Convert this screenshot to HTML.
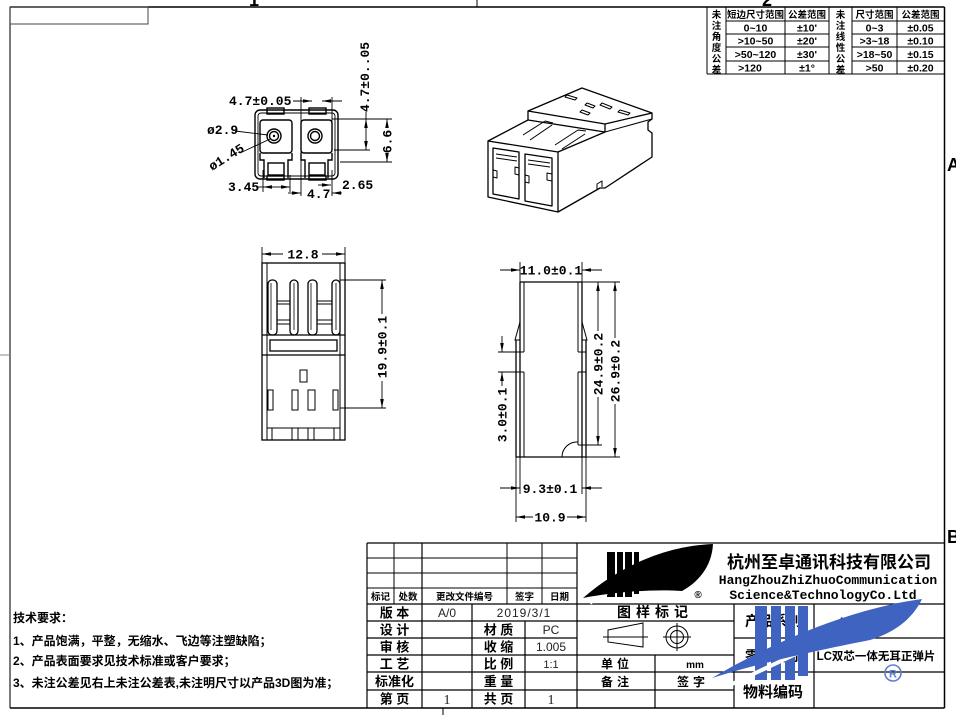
<!DOCTYPE html>
<html><head><meta charset="utf-8">
<style>
html,body{margin:0;padding:0;background:#fff;}
svg{display:block;}
.d{font-family:"Liberation Mono",monospace;font-weight:bold;font-size:13px;fill:#000;}
.c{font-family:"Liberation Sans","Noto Sans CJK SC",sans-serif;font-weight:bold;fill:#000;}
.n{font-family:"Liberation Sans","Noto Sans CJK SC",sans-serif;font-weight:normal;fill:#222;}
</style></head><body>
<svg width="956" height="715" viewBox="0 0 956 715" xmlns="http://www.w3.org/2000/svg">
<defs>
<marker id="a" viewBox="0 0 10 4" refX="10" refY="2" markerWidth="9" markerHeight="3.6" orient="auto" markerUnits="userSpaceOnUse"><path d="M0,0 L10,2 L0,4 z" fill="#000"/></marker>
</defs>

<!-- FRAME -->
<g stroke="#000" fill="none">
<line x1="10" y1="7" x2="944.5" y2="7" stroke-width="1.5"/>
<line x1="10" y1="7" x2="10" y2="708" stroke-width="1.3" stroke="#333"/>
<line x1="10" y1="708" x2="944.5" y2="708" stroke-width="1.5"/>
<line x1="944.5" y1="7" x2="944.5" y2="708" stroke-width="1.5"/>
<rect x="10" y="7" width="138" height="17" stroke-width="1" stroke="#444"/>
<line x1="477" y1="0" x2="477" y2="7" stroke-width="1"/>
<line x1="0" y1="355" x2="10" y2="355" stroke-width="1" stroke="#888"/>
<line x1="443" y1="708" x2="443" y2="715" stroke-width="1"/>
</g>
<text x="249" y="6" class="c" font-size="18">1</text>
<text x="762" y="6" class="c" font-size="18">2</text>
<text x="947" y="171" class="c" font-size="18" font-family="Liberation Serif">A</text>
<text x="947" y="543" class="c" font-size="18" font-family="Liberation Serif">B</text>

<!-- TOLERANCE TABLE -->
<g stroke="#000" stroke-width="1" fill="none">
<line x1="707" y1="7" x2="707" y2="74"/>
<line x1="726" y1="7" x2="726" y2="74"/>
<line x1="785" y1="7" x2="785" y2="74"/>
<line x1="829" y1="7" x2="829" y2="74"/>
<line x1="852" y1="7" x2="852" y2="74"/>
<line x1="897" y1="7" x2="897" y2="74"/>
<line x1="707" y1="74" x2="944" y2="74"/>
<line x1="726" y1="21" x2="829" y2="21"/><line x1="852" y1="21" x2="944" y2="21"/>
<line x1="726" y1="34" x2="829" y2="34"/><line x1="852" y1="34" x2="944" y2="34"/>
<line x1="726" y1="47" x2="829" y2="47"/><line x1="852" y1="47" x2="944" y2="47"/>
<line x1="726" y1="61" x2="829" y2="61"/><line x1="852" y1="61" x2="944" y2="61"/>
</g>
<g class="c" font-size="9.5" text-anchor="middle">
<text x="716.5" y="18">未</text><text x="716.5" y="29">注</text><text x="716.5" y="40">角</text><text x="716.5" y="51">度</text><text x="716.5" y="62">公</text><text x="716.5" y="73">差</text>
<text x="840.5" y="18">未</text><text x="840.5" y="29">注</text><text x="840.5" y="40">线</text><text x="840.5" y="51">性</text><text x="840.5" y="62">公</text><text x="840.5" y="73">差</text>
<text x="755.5" y="18">短边尺寸范围</text><text x="807" y="18">公差范围</text>
<text x="874.5" y="18">尺寸范围</text><text x="920.5" y="18">公差范围</text>
</g>
<g class="c" font-size="10.5" text-anchor="middle">
<text x="755.5" y="31.5">0~10</text><text x="807" y="31.5">±10'</text><text x="874.5" y="31.5">0~3</text><text x="920.5" y="31.5">±0.05</text>
<text x="755.5" y="44.5">&gt;10~50</text><text x="807" y="44.5">±20'</text><text x="874.5" y="44.5">&gt;3~18</text><text x="920.5" y="44.5">±0.10</text>
<text x="755.5" y="58">&gt;50~120</text><text x="807" y="58">±30'</text><text x="874.5" y="58">&gt;18~50</text><text x="920.5" y="58">±0.15</text>
<text x="750" y="71.5">&gt;120</text><text x="807" y="71.5">±1°</text><text x="874.5" y="71.5">&gt;50</text><text x="920.5" y="71.5">±0.20</text>
</g>

<!-- TOP-LEFT VIEW -->
<g stroke="#000" fill="none" stroke-width="1.4">
<rect x="255" y="110" width="83" height="69" rx="5"/>
<rect x="258" y="113" width="77" height="63" rx="3" stroke-width="0.9"/>
<rect x="267" y="108" width="17" height="6"/>
<rect x="309" y="108" width="17" height="6"/>
<rect x="260" y="120" width="32" height="33" rx="3"/>
<rect x="301" y="120" width="31" height="33" rx="3"/>
<circle cx="274" cy="136" r="7"/><circle cx="274" cy="136" r="4.5"/>
<circle cx="315" cy="136" r="7"/><circle cx="315" cy="136" r="4.5"/>
<path d="M260,153 L260,160 L264,160 L264,178 M292,153 L292,160 L288,160 L288,178"/>
<path d="M301,153 L301,160 L305,160 L305,178 M332,153 L332,160 L328,160 L328,178"/>
<rect x="268" y="163" width="16" height="12"/>
<rect x="309" y="163" width="16" height="12"/>
<rect x="267" y="176" width="17" height="4"/>
<rect x="309" y="176" width="17" height="4"/>
</g>
<circle cx="274" cy="136" r="1.2" fill="#000"/>
<g stroke="#000" fill="none" stroke-width="0.9">
<line x1="301" y1="97" x2="301" y2="196"/>
<line x1="332" y1="97" x2="332" y2="122"/>
<line x1="332" y1="170" x2="332" y2="196"/>
<line x1="293" y1="101" x2="312" y2="101" marker-end="url(#a)"/>
<line x1="342" y1="101" x2="322" y2="101" marker-end="url(#a)"/>
<line x1="332" y1="119" x2="392" y2="119"/>
<line x1="334" y1="150" x2="370" y2="150"/>
<line x1="340" y1="162" x2="392" y2="162"/>
<line x1="366" y1="112" x2="366" y2="119" />
<line x1="366" y1="135" x2="366" y2="119" marker-end="url(#a)"/>
<line x1="366" y1="135" x2="366" y2="150" marker-end="url(#a)"/>
<line x1="387" y1="128" x2="387" y2="119" marker-end="url(#a)"/>
<line x1="387" y1="155" x2="387" y2="162" marker-end="url(#a)"/>
<line x1="235" y1="131" x2="268" y2="135"/>
<line x1="240" y1="153" x2="270" y2="139"/>
<line x1="263" y1="170" x2="263" y2="192"/>
<line x1="290" y1="175" x2="290" y2="192"/>
<line x1="276" y1="187" x2="263" y2="187" marker-end="url(#a)"/>
<line x1="276" y1="187" x2="290" y2="187" marker-end="url(#a)"/>
<line x1="256" y1="187" x2="263" y2="187"/>
<line x1="288" y1="193" x2="301" y2="193" marker-end="url(#a)"/>
<line x1="342" y1="193" x2="332" y2="193" marker-end="url(#a)"/>
<line x1="318" y1="185" x2="331" y2="185" marker-end="url(#a)"/>
</g>
<text x="229" y="105" class="d">4.7±0.05</text>
<text class="d" transform="translate(369,77) rotate(-90)" text-anchor="middle">4.7±0..05</text>
<text class="d" transform="translate(391.5,141.5) rotate(-90)" text-anchor="middle">6.6</text>
<text x="207" y="134" class="d" font-size="12">ø2.9</text>
<text class="d" font-size="12" transform="translate(212,171) rotate(-32)">ø1.45</text>
<text x="228" y="191" class="d" font-size="12.5">3.45</text>
<text x="307" y="198" class="d" font-size="12.5">4.7</text>
<text x="342" y="189" class="d" font-size="12.5">2.65</text>

<!-- 3D VIEW -->
<g stroke="#000" fill="none" stroke-width="1.3" stroke-linejoin="round">
<path d="M488,141 L488,197 L558,212 L600,188 L605,188 L652,157 L652,133 L648,130 L648,122 L652,119 L652,113 L582,88 L528,111 L528,120 L488,141 Z"/>
<path d="M488,141 L558,152 L558,212"/>
<path d="M493,148 L519,152 L519,199 L493,194 Z"/>
<path d="M525,154 L552,158 L552,206 L525,201 Z"/>
<path d="M496,154 L517,157 M496,158 L517,161 M528,160 L550,163 M528,164 L550,167" stroke-width="1"/>
<path d="M515,167 L519,168 L519,175 L515,174 Z M547,173 L552,174 L552,181 L547,180 Z M493,170 L497,171 L497,178 L493,177 Z M525,175 L529,176 L529,183 L525,182 Z" stroke-width="1"/>
<path d="M558,152 L605,132 L605,124 L528,111"/>
<path d="M528,120 L605,132"/>
<path d="M605,124 L652,113"/>
<path d="M605,132 L652,119" stroke-width="1"/>
<path d="M523,135 L545,121 M530,140 L552,125 M555,145 L578,130 M562,149 L585,134 M545,121 L553,123 M578,130 L586,131" stroke-width="1"/>
<path d="M567,95 L577,98 L575,100 L565,97 Z M587,103 L595,106 L593,108 L585,105 Z M602,103 L612,107 L610,109 L600,105 Z M620,110 L630,113 L628,115 L618,112 Z M582,110 L590,113 L588,115 L580,112 Z" stroke-width="1"/>
<path d="M597,190 L597,184 L602,181 L602,187" stroke-width="1"/>
</g>

<!-- MIDDLE-LEFT VIEW -->
<g stroke="#000" fill="none" stroke-width="1.3">
<rect x="262" y="263" width="83" height="177"/>
<line x1="267" y1="263" x2="267" y2="440" stroke-width="1"/>
<line x1="340" y1="263" x2="340" y2="440" stroke-width="1"/>
<line x1="262" y1="335" x2="345" y2="335"/>
<line x1="262" y1="355" x2="345" y2="355"/>
<rect x="270" y="340" width="67" height="11"/>
<rect x="268" y="280" width="9" height="55" rx="4"/>
<rect x="290" y="280" width="8" height="55" rx="4"/>
<rect x="308" y="280" width="9" height="55" rx="4"/>
<rect x="332" y="280" width="8" height="55" rx="4"/>
<path d="M271,283 L271,330 M294,283 L294,330 M311,283 L311,330 M336,283 L336,330" stroke-width="0.8"/>
<rect x="277" y="301" width="13" height="3" stroke-width="1"/>
<rect x="277" y="320" width="13" height="4" stroke-width="1"/>
<rect x="317" y="301" width="15" height="3" stroke-width="1"/>
<rect x="317" y="320" width="15" height="4" stroke-width="1"/>
<rect x="300" y="370" width="7" height="12" stroke-width="1"/>
<rect x="268" y="390" width="5" height="20" stroke-width="1"/>
<rect x="292" y="390" width="6" height="20" stroke-width="1"/>
<rect x="308" y="390" width="7" height="20" stroke-width="1"/>
<rect x="333" y="390" width="5" height="20" stroke-width="1"/>
<path d="M267,428 L340,428 M272,428 L272,440 M292,428 L292,440 M298,428 L298,440 M308,428 L308,440 M314,428 L314,440 M334,428 L334,440" stroke-width="1"/>
</g>
<g stroke="#000" fill="none" stroke-width="0.9">
<line x1="262" y1="247" x2="262" y2="263"/>
<line x1="345" y1="247" x2="345" y2="263"/>
<line x1="283" y1="254" x2="262" y2="254" marker-end="url(#a)"/>
<line x1="322" y1="254" x2="345" y2="254" marker-end="url(#a)"/>
<line x1="340" y1="280" x2="386" y2="280"/>
<line x1="340" y1="408" x2="386" y2="408"/>
<line x1="382" y1="314" x2="382" y2="280" marker-end="url(#a)"/>
<line x1="382" y1="381" x2="382" y2="408" marker-end="url(#a)"/>
</g>
<text x="303" y="258.5" class="d" text-anchor="middle">12.8</text>
<text class="d" transform="translate(386.5,347) rotate(-90)" text-anchor="middle">19.9±0.1</text>

<!-- MIDDLE-RIGHT VIEW -->
<g stroke="#000" fill="none" stroke-width="1.3">
<line x1="520" y1="282" x2="582" y2="282"/>
<line x1="520" y1="282" x2="520" y2="457"/>
<line x1="582" y1="282" x2="582" y2="457"/>
<line x1="524" y1="282" x2="524" y2="352" stroke-width="1"/>
<line x1="524" y1="372" x2="524" y2="457" stroke-width="1"/>
<line x1="578" y1="282" x2="578" y2="352" stroke-width="1"/>
<line x1="578" y1="372" x2="578" y2="445" stroke-width="1"/>
<path d="M520,322 L515,340 L520,340 M582,322 L587,340 L582,340" stroke-width="1"/>
<line x1="516" y1="340" x2="516" y2="457"/>
<line x1="586" y1="340" x2="586" y2="457"/>
<path d="M516,352 L524,352 M516,372 L524,372 M578,352 L586,352 M578,372 L586,372" stroke-width="1"/>
<line x1="516" y1="457" x2="586" y2="457"/>
<path d="M562,457 A15,15 0 0 1 578,442" stroke-width="1"/>
</g>
<g stroke="#000" fill="none" stroke-width="0.9">
<line x1="520" y1="262" x2="520" y2="282"/>
<line x1="582" y1="262" x2="582" y2="282"/>
<line x1="500" y1="270" x2="520" y2="270" marker-end="url(#a)"/>
<line x1="602" y1="270" x2="582" y2="270" marker-end="url(#a)"/>
<line x1="516" y1="457" x2="516" y2="522"/>
<line x1="586" y1="457" x2="586" y2="522"/>
<line x1="520" y1="457" x2="520" y2="494"/>
<line x1="582" y1="457" x2="582" y2="494"/>
<line x1="500" y1="488" x2="520" y2="488" marker-end="url(#a)"/>
<line x1="602" y1="488" x2="582" y2="488" marker-end="url(#a)"/>
<line x1="533" y1="517" x2="516" y2="517" marker-end="url(#a)"/>
<line x1="567" y1="517" x2="586" y2="517" marker-end="url(#a)"/>
<line x1="498" y1="352" x2="516" y2="352"/>
<line x1="498" y1="372" x2="516" y2="372"/>
<line x1="502" y1="336" x2="502" y2="352" marker-end="url(#a)"/>
<line x1="502" y1="386" x2="502" y2="372" marker-end="url(#a)"/>
<line x1="582" y1="282" x2="620" y2="282"/>
<line x1="578" y1="445" x2="602" y2="445"/>
<line x1="582" y1="457" x2="620" y2="457"/>
<line x1="598" y1="331" x2="598" y2="282" marker-end="url(#a)"/>
<line x1="598" y1="397" x2="598" y2="445" marker-end="url(#a)"/>
<line x1="615" y1="338" x2="615" y2="282" marker-end="url(#a)"/>
<line x1="615" y1="404" x2="615" y2="457" marker-end="url(#a)"/>
</g>
<text x="551" y="274.5" class="d" text-anchor="middle">11.0±0.1</text>
<text x="550" y="493" class="d" text-anchor="middle">9.3±0.1</text>
<text x="550" y="521.5" class="d" text-anchor="middle">10.9</text>
<text class="d" transform="translate(506.5,415) rotate(-90)" text-anchor="middle">3.0±0.1</text>
<text class="d" transform="translate(602.5,364) rotate(-90)" text-anchor="middle">24.9±0.2</text>
<text class="d" transform="translate(619.5,371) rotate(-90)" text-anchor="middle">26.9±0.2</text>

<!-- NOTES -->
<g class="c" font-size="12">
<text x="13" y="622">技术要求：</text>
<text x="13" y="645">1、产品饱满，平整，无缩水、飞边等注塑缺陷；</text>
<text x="13" y="665">2、产品表面要求见技术标准或客户要求；</text>
<text x="13" y="687">3、未注公差见右上未注公差表,未注明尺寸以产品3D图为准；</text>
</g>

<!-- TITLE BLOCK -->
<g stroke="#000" fill="none" stroke-width="1.2">
<line x1="367" y1="543" x2="944.5" y2="543"/>
<line x1="367" y1="558" x2="577" y2="558" stroke-width="1"/>
<line x1="367" y1="573" x2="577" y2="573" stroke-width="1"/>
<line x1="367" y1="588" x2="577" y2="588" stroke-width="1"/>
<line x1="367" y1="604" x2="944.5" y2="604"/>
<line x1="367" y1="621" x2="734" y2="621"/>
<line x1="367" y1="638" x2="577" y2="638"/>
<line x1="734" y1="638" x2="944.5" y2="638"/>
<line x1="367" y1="655" x2="734" y2="655"/>
<line x1="367" y1="672" x2="944.5" y2="672"/>
<line x1="367" y1="690" x2="734" y2="690"/>
<line x1="367" y1="543" x2="367" y2="708"/>
<line x1="394" y1="543" x2="394" y2="604" stroke-width="1"/>
<line x1="422" y1="543" x2="422" y2="708"/>
<line x1="507" y1="543" x2="507" y2="604" stroke-width="1"/>
<line x1="542" y1="543" x2="542" y2="604" stroke-width="1"/>
<line x1="577" y1="543" x2="577" y2="708"/>
<line x1="472" y1="604" x2="472" y2="708"/>
<line x1="525" y1="621" x2="525" y2="708"/>
<line x1="655" y1="655" x2="655" y2="708"/>
<line x1="734" y1="604" x2="734" y2="708"/>
<line x1="814" y1="604" x2="814" y2="708"/>
</g>
<g class="c" font-size="9.5" text-anchor="middle">
<text x="380.5" y="600">标记</text><text x="408" y="600">处数</text><text x="464.5" y="600">更改文件编号</text><text x="524.5" y="600">签字</text><text x="559.5" y="600">日期</text>
</g>
<g class="c" font-size="13" text-anchor="middle">
<text x="394.5" y="617.5">版 本</text>
<text x="394.5" y="634.5">设 计</text>
<text x="394.5" y="651.5">审 核</text>
<text x="394.5" y="668.5">工 艺</text>
<text x="394.5" y="686">标准化</text>
<text x="394.5" y="703.5">第 页</text>
<text x="498.5" y="634.5">材 质</text>
<text x="498.5" y="651.5">收 缩</text>
<text x="498.5" y="668.5">比 例</text>
<text x="498.5" y="686">重 量</text>
<text x="498.5" y="703.5">共 页</text>
</g>
<g class="n" font-size="12" text-anchor="middle">
<text x="447" y="617">A/0</text>
<text x="524" y="617" letter-spacing="1">2019/3/1</text>
<text x="551" y="634">PC</text>
<text x="551" y="651">1.005</text>
<text x="551" y="668" font-size="11">1:1</text>
<text x="447" y="704" font-family="Liberation Serif" font-size="14">1</text>
<text x="551" y="704" font-family="Liberation Serif" font-size="14">1</text>
</g>

<!-- black logo -->
<g fill="#000">
<rect x="607" y="552" width="8" height="45"/>
<rect x="617" y="552" width="6" height="45"/>
<rect x="625" y="552" width="7" height="45"/>
<rect x="634" y="552" width="5" height="42"/>
</g>
<line x1="590" y1="603" x2="648" y2="568" stroke="#fff" stroke-width="3.5"/>
<path d="M583,598 C620,566 665,546 713,544 C712,563 702,580 682,591 C652,589 615,592 583,598 Z" fill="#000"/>
<text x="698" y="598" class="c" font-size="10" text-anchor="middle">®</text>

<text x="829" y="568" class="c" font-size="17" text-anchor="middle">杭州至卓通讯科技有限公司</text>
<text x="828" y="584" class="d" font-size="12.6" text-anchor="middle">HangZhouZhiZhuoCommunication</text>
<text x="823" y="599" class="d" font-size="12.4" text-anchor="middle">Science&amp;TechnologyCo.Ltd</text>

<text x="655" y="617" class="c" font-size="14" text-anchor="middle" letter-spacing="5">图样标记</text>
<!-- symbol -->
<g stroke="#000" fill="none" stroke-width="1">
<path d="M608,630 L643,623 L643,647 L608,642 Z"/>
<line x1="603" y1="637" x2="648" y2="637"/>
<circle cx="677" cy="637" r="11"/>
<circle cx="677" cy="637" r="6.5"/>
<line x1="663" y1="637" x2="691" y2="637"/>
<line x1="677" y1="623" x2="677" y2="651"/>
</g>
<g class="c" font-size="12" text-anchor="middle">
<text x="617" y="668" letter-spacing="4">单位</text>
<text x="695" y="668" font-size="10">mm</text>
<text x="617" y="686" letter-spacing="4">备注</text>
<text x="693" y="686" letter-spacing="4">签字</text>
</g>
<g class="c" text-anchor="middle">
<text x="773" y="626" font-size="14">产品系列</text>
<text x="866" y="626" font-size="12">LC适配器</text>
<text x="773" y="661" font-size="14">零件名称</text>
<text x="876" y="660" font-size="11.5">LC双芯一体无耳正弹片</text>
<text x="773" y="697" font-size="15">物料编码</text>
</g>

<!-- blue watermark logo -->
<g fill="#3f63c0">
<rect x="755" y="606" width="12" height="74"/>
<rect x="771" y="606" width="10" height="74"/>
<rect x="785" y="606" width="10" height="74"/>
<rect x="798" y="606" width="10" height="70"/>
</g>
<line x1="730" y1="685" x2="815" y2="645" stroke="#fff" stroke-width="4"/>
<path d="M712,678 C760,650 840,610 922,599 C913,618 896,632 870,640 C830,648 770,660 712,678 Z" fill="#3f63c0"/>
<circle cx="893" cy="673" r="8" fill="none" stroke="#5b7fd0" stroke-width="1.6"/>
<text x="893" y="677.5" font-family="Liberation Sans,sans-serif" font-weight="bold" font-size="11" fill="#5b7fd0" text-anchor="middle">R</text>
</svg>
</body></html>
